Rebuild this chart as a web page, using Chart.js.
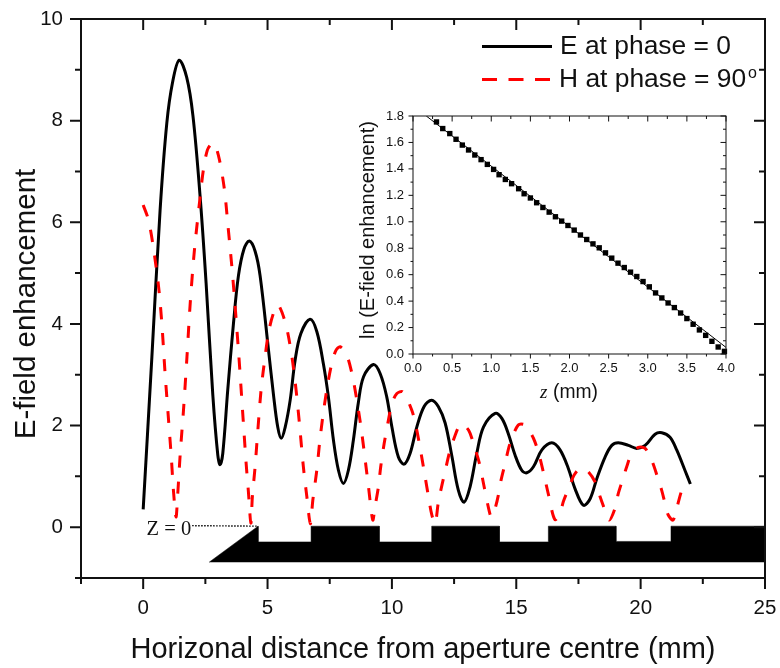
<!DOCTYPE html>
<html>
<head>
<meta charset="utf-8">
<script src="https://cdn.jsdelivr.net/npm/chart.js@4"></script>
<style>
  html, body { margin: 0; background: #fff; }
  #wrap { position: relative; width: 780px; height: 668px; }
  #main { position: absolute; left: 0; top: 0; }
  #inset { position: absolute; left: 340px; top: 90px; }
</style>
</head>
<body>
<div id="wrap">
  <canvas id="main" width="780" height="668"></canvas>
  <canvas id="inset" width="420" height="320"></canvas>
</div>
<script>
// E at phase = 0
const eX = [0, 0.35, 0.68, 0.95, 1.18, 1.45, 1.75, 2.0, 2.29, 2.53, 2.8, 3.0, 3.09, 3.2, 3.4, 3.63, 3.83, 4.05, 4.27, 4.5, 4.7, 5.04, 5.24, 5.41, 5.55, 5.71, 5.91, 6.11, 6.34, 6.71, 6.98, 7.25, 7.45, 7.65, 7.85, 8.05, 8.25, 8.45, 8.65, 8.86, 9.26, 9.53, 9.79, 10.0, 10.26, 10.49, 10.73, 11.0, 11.3, 11.6, 11.87, 12.14, 12.41, 12.67, 12.9, 13.14, 13.41, 13.68, 14.15, 14.42, 14.68, 14.95, 15.22, 15.42, 15.69, 16.03, 16.43, 16.76, 17.09, 17.36, 17.7, 17.97, 18.24, 18.57, 18.84, 19.1, 19.51, 19.84, 20.18, 20.58, 20.85, 21.18, 21.45, 21.78, 22.0];
const eY = [0.35, 3.35, 6.24, 7.95, 8.75, 9.19, 8.85, 8.1, 6.5, 4.8, 2.6, 1.42, 1.23, 1.45, 2.7, 4.01, 4.95, 5.47, 5.63, 5.43, 4.95, 3.48, 2.6, 1.97, 1.75, 1.97, 2.5, 3.29, 3.81, 4.09, 3.85, 3.2, 2.55, 1.71, 1.12, 0.86, 1.12, 1.71, 2.45, 2.96, 3.2, 3.02, 2.57, 1.97, 1.38, 1.24, 1.45, 1.97, 2.38, 2.5, 2.37, 2.05, 1.4, 0.73, 0.49, 0.79, 1.45, 1.97, 2.24, 2.14, 1.84, 1.42, 1.12, 1.07, 1.19, 1.52, 1.66, 1.52, 1.16, 0.76, 0.43, 0.56, 0.96, 1.38, 1.61, 1.66, 1.61, 1.55, 1.61, 1.83, 1.86, 1.77, 1.52, 1.12, 0.85];

// H at phase = 90
const hX = [0, 0.21, 0.41, 0.62, 0.75, 0.88, 1.02, 1.13, 1.22, 1.32, 1.39, 1.49, 1.62, 1.76, 1.89, 2.06, 2.29, 2.42, 2.58, 2.75, 2.87, 3.07, 3.27, 3.4, 3.6, 3.83, 4.03, 4.14, 4.23, 4.33, 4.39, 4.5, 4.61, 4.74, 4.9, 5.06, 5.28, 5.44, 5.74, 5.98, 6.14, 6.28, 6.44, 6.58, 6.72, 6.82, 6.98, 7.09, 7.22, 7.38, 7.58, 7.75, 7.92, 8.16, 8.39, 8.59, 8.79, 9.06, 9.23, 9.32, 9.46, 9.55, 9.69, 9.86, 10.0, 10.2, 10.44, 10.8, 11.0, 11.29, 11.47, 11.6, 11.74, 11.87, 12.18, 12.34, 12.47, 12.77, 13.08, 13.34, 13.52, 13.71, 13.92, 14.0, 14.15, 14.28, 14.39, 14.55, 14.75, 15.08, 15.35, 15.69, 15.93, 16.16, 16.29, 16.55, 16.76, 16.89, 17.16, 17.32, 17.55, 17.83, 18.17, 18.37, 18.54, 18.74, 18.97, 19.1, 19.26, 19.44, 19.64, 19.91, 20.18, 20.45, 20.67, 20.85, 20.98, 21.11, 21.3, 21.45, 21.61, 21.8];
const hY = [6.34, 6.05, 5.5, 4.73, 4.01, 3.03, 2.11, 1.38, 0.7, 0.2, 0.66, 1.45, 2.3, 3.35, 4.4, 5.45, 6.5, 7.03, 7.42, 7.55, 7.55, 7.22, 6.63, 5.98, 4.93, 3.48, 2.04, 1.25, 0.7, 0.08, 0.6, 1.19, 1.91, 2.7, 3.35, 3.88, 4.27, 4.37, 3.98, 3.35, 2.73, 2.05, 1.19, 0.6, 0.07, 0.53, 1.12, 1.65, 2.17, 2.7, 3.22, 3.48, 3.55, 3.42, 3.03, 2.5, 1.85, 0.79, 0.14, 0.4, 0.8, 1.19, 1.65, 2.11, 2.43, 2.63, 2.66, 2.3, 1.91, 1.12, 0.6, 0.25, 0.07, 0.5, 1.19, 1.52, 1.71, 2.03, 1.91, 1.55, 1.25, 0.79, 0.3, 0.2, 0.37, 0.63, 0.93, 1.25, 1.65, 2.01, 2.01, 1.75, 1.4, 0.93, 0.65, 0.15, 0.27, 0.5, 0.83, 1.02, 1.15, 1.12, 0.89, 0.6, 0.37, 0.14, 0.37, 0.66, 0.91, 1.19, 1.45, 1.57, 1.55, 1.31, 1.0, 0.72, 0.47, 0.24, 0.14, 0.37, 0.66, 0.93];

// aperture outline under the curves
const plateX = [2.65, 4.62, 4.62, 6.75, 6.75, 9.49, 9.49, 11.6, 11.6, 14.32, 14.32, 16.29, 16.29, 19.01, 19.01, 21.22, 21.22, 25];
const plateY = [-0.69, 0.02, -0.29, -0.29, 0.02, 0.02, -0.29, -0.29, 0.02, 0.02, -0.29, -0.29, 0.02, 0.02, -0.28, -0.28, 0.02, 0.02];
const plateBase = -0.69;
const zLineX = [1.97, 4.62];
const zLineY = [0.03, 0.02];

// inset: ln(E) against z
const lnX = [0.30, 0.38, 0.47, 0.55, 0.63, 0.71, 0.79, 0.87, 0.95, 1.03, 1.10, 1.18, 1.26, 1.35, 1.42, 1.50, 1.58, 1.66, 1.74, 1.82, 1.90, 1.98, 2.06, 2.14, 2.22, 2.30, 2.38, 2.46, 2.54, 2.62, 2.70, 2.78, 2.86, 2.94, 3.02, 3.10, 3.18, 3.26, 3.34, 3.42, 3.50, 3.58, 3.66, 3.74, 3.82, 3.90, 3.98];
const lnY = [1.755, 1.705, 1.667, 1.624, 1.58, 1.543, 1.505, 1.47, 1.434, 1.396, 1.356, 1.32, 1.288, 1.25, 1.212, 1.18, 1.144, 1.108, 1.073, 1.038, 1.005, 0.972, 0.937, 0.90, 0.866, 0.833, 0.803, 0.765, 0.725, 0.687, 0.654, 0.619, 0.586, 0.548, 0.508, 0.462, 0.424, 0.386, 0.351, 0.31, 0.268, 0.225, 0.182, 0.141, 0.096, 0.053, 0.02];
const fitX = [0.17, 4.0];
const fitY = [1.8, 0.05];

const sans = '"Liberation Sans", Arial, sans-serif';
const serif = '"Liberation Serif", "Times New Roman", serif';
const ink = '#111';

function pts(xs, ys) {
    return xs.map((x, i) => ({ x: x, y: ys[i] }));
}

function text(ctx, str, x, y, font, align, rotate) {
    ctx.save();
    ctx.translate(x, y);
    if (rotate) ctx.rotate(-Math.PI / 2);
    ctx.font = font;
    ctx.fillStyle = ink;
    ctx.textAlign = align || 'left';
    ctx.textBaseline = 'middle';
    ctx.fillText(str, 0, 0);
    ctx.restore();
}

// axis frame with long ticks on labelled values, short ones between
function framePlugin(width, outMajor, outMinor, inMajor, inMinor) {
    return {
        id: 'frame',
        afterDraw(chart) {
            const { ctx, chartArea: a, scales } = chart;
            ctx.save();
            ctx.strokeStyle = ink;
            ctx.lineWidth = width;
            ctx.strokeRect(a.left, a.top, a.right - a.left, a.bottom - a.top);
            ctx.beginPath();
            scales.x.ticks.forEach(t => {
                const px = scales.x.getPixelForValue(t.value);
                const major = t.label !== '';
                ctx.moveTo(px, a.bottom);
                ctx.lineTo(px, a.bottom + (major ? outMajor : outMinor));
                ctx.moveTo(px, a.top);
                ctx.lineTo(px, a.top + (major ? inMajor : inMinor));
            });
            scales.y.ticks.forEach(t => {
                const py = scales.y.getPixelForValue(t.value);
                const major = t.label !== '';
                ctx.moveTo(a.left, py);
                ctx.lineTo(a.left - (major ? outMajor : outMinor), py);
                ctx.moveTo(a.right, py);
                ctx.lineTo(a.right - (major ? inMajor : inMinor), py);
            });
            ctx.stroke();
            ctx.restore();
        }
    };
}

// fixed axis boxes, so label overhang does not move the plot area
function fitBottom(height) {
    return axis => { axis.height = height; axis.paddingLeft = 0; axis.paddingRight = 0; };
}
function fitLeft(width) {
    return axis => { axis.width = width; axis.paddingTop = 0; axis.paddingBottom = 0; };
}

const mainNotes = {
    id: 'mainNotes',
    afterDraw(chart) {
        const { ctx, scales } = chart;
        text(ctx, 'E-field enhancement', 27, 304, '29.5px ' + sans, 'center', true);
        text(ctx, 'Z = 0', scales.x.getPixelForValue(zLineX[0]) - 1, scales.y.getPixelForValue(0) + 2, '20.5px ' + serif, 'right');

        // legend
        ctx.save();
        ctx.lineWidth = 3;
        ctx.strokeStyle = '#000';
        ctx.beginPath();
        ctx.moveTo(482, 46.5);
        ctx.lineTo(552, 46.5);
        ctx.stroke();
        ctx.strokeStyle = '#f00';
        ctx.setLineDash([15, 11.5]);
        ctx.beginPath();
        ctx.moveTo(482, 79.5);
        ctx.lineTo(551, 79.5);
        ctx.stroke();
        ctx.restore();
        text(ctx, 'E at phase = 0', 560, 47, '26.4px ' + sans);
        text(ctx, 'H at phase = 90', 559, 80, '26.4px ' + sans);
        text(ctx, 'o', 748, 74, '16px ' + sans);
    }
};

new Chart(document.getElementById('main'), {
    type: 'scatter',
    data: {
        datasets: [
            { label: 'plate', data: pts(plateX, plateY), showLine: true, tension: 0, pointRadius: 0, borderColor: '#000', borderWidth: 0.5, backgroundColor: '#000', fill: { value: plateBase }, order: 4 },
            { label: 'Z = 0', data: pts(zLineX, zLineY), showLine: true, tension: 0, pointRadius: 0, borderColor: '#000', borderWidth: 1.4, borderDash: [1.5, 1.5], order: 3 },
            { label: 'E at phase = 0', data: pts(eX, eY), showLine: true, tension: 0.35, pointRadius: 0, borderColor: '#000', borderWidth: 3, order: 2 },
            { label: 'H at phase = 90', data: pts(hX, hY), showLine: true, tension: 0.3, pointRadius: 0, borderColor: '#f00', borderWidth: 3, borderDash: [12, 14], order: 1 }
        ]
    },
    options: {
        responsive: false,
        animation: false,
        layout: { padding: { top: 19, right: 15, left: 0, bottom: 0 } },
        plugins: { legend: { display: false }, tooltip: { enabled: false } },
        scales: {
            x: {
                type: 'linear', min: -2.5, max: 25,
                afterFit: fitBottom(90),
                grid: { display: false, drawTicks: false },
                border: { display: false },
                ticks: {
                    stepSize: 2.5, autoSkip: false, maxRotation: 0, padding: 18, color: ink,
                    font: { family: sans, size: 20.5 },
                    callback: v => (v >= 0 && v % 5 === 0 ? String(v) : '')
                },
                title: { display: true, text: 'Horizonal distance from aperture centre (mm)', color: ink, font: { family: sans, size: 29 }, padding: { top: 0, bottom: 0.6 } }
            },
            y: {
                type: 'linear', min: -1, max: 10,
                afterFit: fitLeft(81),
                grid: { display: false, drawTicks: false },
                border: { display: false },
                ticks: {
                    stepSize: 1, autoSkip: false, padding: 18, color: ink,
                    font: { family: sans, size: 20.5 },
                    callback: v => (v % 2 === 0 ? String(v) : '')
                }
            }
        }
    },
    plugins: [framePlugin(2, 11, 6, 11, 6), mainNotes]
});

const insetNotes = {
    id: 'insetNotes',
    afterDraw(chart) {
        const { ctx } = chart;
        text(ctx, 'ln (E-field enhancement)', 28, 140, '20px ' + sans, 'center', true);
        text(ctx, 'z', 200, 303, 'italic 19px ' + serif);
        text(ctx, '(mm)', 213, 303, '19.3px ' + sans);
    }
};

new Chart(document.getElementById('inset'), {
    type: 'scatter',
    data: {
        datasets: [
            { label: 'fit', data: pts(fitX, fitY), showLine: true, tension: 0, pointRadius: 0, borderColor: '#000', borderWidth: 1, order: 2 },
            { label: 'ln E', data: pts(lnX, lnY), showLine: false, pointStyle: 'rect', pointRadius: 3.8, backgroundColor: '#000', borderColor: '#000', borderWidth: 0, clip: false, order: 1 }
        ]
    },
    options: {
        responsive: false,
        animation: false,
        layout: { padding: { top: 26, right: 34, left: 0, bottom: 0 } },
        plugins: { legend: { display: false }, tooltip: { enabled: false } },
        scales: {
            x: {
                type: 'linear', min: 0, max: 4,
                afterFit: fitBottom(56),
                grid: { display: false, drawTicks: false },
                border: { display: false },
                ticks: {
                    stepSize: 0.25, autoSkip: false, maxRotation: 0, padding: 7, color: ink,
                    font: { family: sans, size: 13 },
                    callback: v => (v * 2 % 1 === 0 ? v.toFixed(1) : '')
                }
            },
            y: {
                type: 'linear', min: 0, max: 1.8,
                afterFit: fitLeft(73),
                grid: { display: false, drawTicks: false },
                border: { display: false },
                ticks: {
                    stepSize: 0.1, autoSkip: false, padding: 9, color: ink,
                    font: { family: sans, size: 13 },
                    callback: v => (Math.round(v * 10) % 2 === 0 ? v.toFixed(1) : '')
                }
            }
        }
    },
    plugins: [framePlugin(1, 4.5, 2.5, 5.5, 3), insetNotes]
});
</script>
</body>
</html>
